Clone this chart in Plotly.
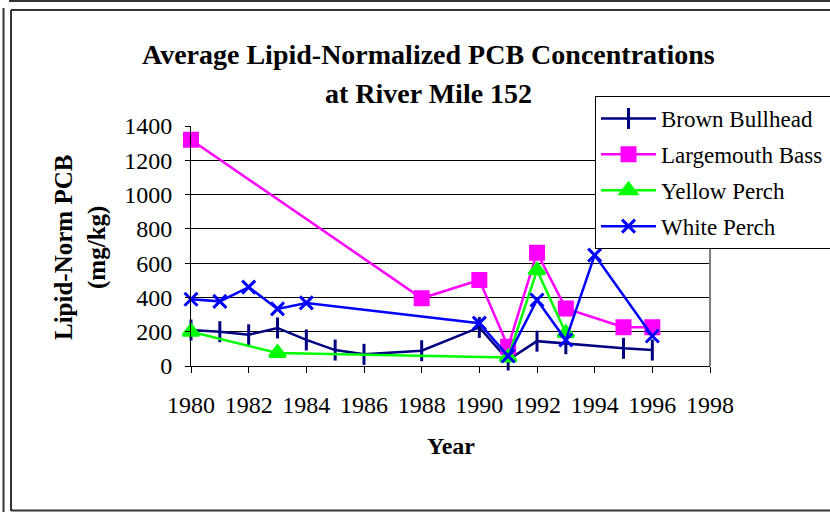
import plotly.graph_objects as go

# data
bullhead_years = [1980, 1981, 1982, 1983, 1984, 1985, 1986, 1988, 1990, 1991, 1992, 1993, 1995, 1996]
bullhead_pcb = [210, 200, 182, 222, 152, 93, 68, 89, 225, 35, 145, 130, 103, 93]

bass_years = [1980, 1988, 1990, 1991, 1992, 1993, 1995, 1996]
bass_pcb = [1320, 395, 502, 113, 661, 336, 226, 226]

yellow_years = [1980, 1983, 1991, 1992, 1993]
yellow_pcb = [200, 76, 50, 558, 192]

white_years = [1980, 1981, 1982, 1983, 1984, 1990, 1991, 1992, 1993, 1994, 1996]
white_pcb = [389, 377, 460, 333, 368, 250, 58, 385, 152, 647, 175]

# figure is a bit wider than the window so the legend box runs off the right edge
W, H = 850, 512
L, R, T, B = 191, 710, 126, 366
FONT = "Liberation Serif"
PAD = "\u00a0" * 4  # invisible padding so the legend box is wider than the window


def px2x(px):
    return (px - L) / (R - L)


def px2y(py):
    return (B - py) / (B - T)


fig = go.Figure()

series = [
    ("Brown Bullhead", bullhead_years, bullhead_pcb, "#000080", "line-ns", 15),
    ("Largemouth Bass", bass_years, bass_pcb, "#FF00FF", "square", 13),
    ("Yellow Perch", yellow_years, yellow_pcb, "#00FF00", "triangle-up", 14),
    ("White Perch", white_years, white_pcb, "#0000FF", "x-thin", 13),
]

for name, xs, ys, color, symbol, size in series:
    fig.add_trace(
        go.Scatter(
            x=xs,
            y=ys,
            mode="lines+markers",
            name=name + PAD,
            legendgroup=name,
            cliponaxis=False,
            line=dict(color=color, width=2.5),
            marker=dict(
                symbol=symbol,
                size=size,
                color=color,
                line=dict(color=color, width=3)
            )
        )
    )

tick_font = dict(family=FONT, size=24, color="black")

fig.update_layout(
    width=W,
    height=H,
    margin=dict(l=L, r=W - R, t=T, b=H - B, autoexpand=False),
    paper_bgcolor="white",
    plot_bgcolor="white",
    font=dict(family=FONT, size=24, color="black"),
    showlegend=True,
    legend=dict(
        x=px2x(595),
        y=px2y(96),
        xanchor="left",
        yanchor="top",
        bgcolor="white",
        bordercolor="black",
        borderwidth=1,
        font=dict(family=FONT, size=23, color="black"),
        traceorder="grouped",
        tracegroupgap=3,
        itemwidth=55,
    ),
    xaxis=dict(
        range=[1980, 1998],
        dtick=2,
        tick0=1980,
        showgrid=False,
        zeroline=False,
        showline=True,
        linecolor="black",
        linewidth=1,
        ticks="outside",
        ticklen=6,
        tickcolor="black",
        ticklabelstandoff=11,
        tickfont=tick_font,
    ),
    yaxis=dict(
        range=[0, 1400],
        dtick=200,
        showgrid=True,
        gridcolor="black",
        gridwidth=1,
        zeroline=False,
        showline=True,
        linecolor="black",
        linewidth=1,
        ticks="outside",
        ticklen=5,
        tickcolor="black",
        ticklabelstandoff=8,
        tickfont=tick_font,
    ),
)

# titles
for line_text, ypx in [("Average Lipid-Normalized PCB Concentrations", 55),
                       ("at River Mile 152", 93)]:
    fig.add_annotation(
        text="<b>" + line_text + "</b>",
        x=px2x(428), y=px2y(ypx), xref="paper", yref="paper",
        xanchor="center", yanchor="middle", showarrow=False,
        font=dict(family=FONT, size=28, color="black"),
    )
fig.add_annotation(
    text="<b>Lipid-Norm PCB<br>(mg/kg)</b>",
    x=px2x(80), y=px2y(248), xref="paper", yref="paper",
    xanchor="center", yanchor="middle", showarrow=False, textangle=-90,
    font=dict(family=FONT, size=25, color="black"),
)
fig.add_annotation(
    text="<b>Year</b>",
    x=px2x(451), y=px2y(446), xref="paper", yref="paper",
    xanchor="center", yanchor="middle", showarrow=False,
    font=dict(family=FONT, size=24, color="black"),
)

# plot-area right border (grey) and the chart frame
frame = dict(xref="paper", yref="paper", type="line", layer="above")
fig.add_shape(x0=1, x1=1, y0=0, y1=px2y(244), line=dict(color="#808080", width=2), **frame)
fig.add_shape(x0=px2x(9), x1=px2x(845), y0=px2y(1), y1=px2y(1), line=dict(color="#333333", width=2), **frame)
fig.add_shape(x0=px2x(3.5), x1=px2x(3.5), y0=px2y(8), y1=px2y(514), line=dict(color="#333333", width=2), **frame)
fig.add_shape(x0=px2x(11), x1=px2x(11), y0=px2y(10), y1=px2y(511), line=dict(color="#333333", width=2), **frame)
fig.add_shape(x0=px2x(11), x1=px2x(845), y0=px2y(10), y1=px2y(10), line=dict(color="#333333", width=2), **frame)
fig.add_shape(x0=px2x(11), x1=px2x(845), y0=px2y(510.5), y1=px2y(510.5), line=dict(color="#333333", width=2), **frame)

# the page body has a default 8px margin; drop it so the figure sits at the window corner
fig.write_html(
    "out.html",
    config={"displayModeBar": False},
    post_script="document.body.style.margin = '0px'; document.body.style.overflow = 'hidden';",
)
